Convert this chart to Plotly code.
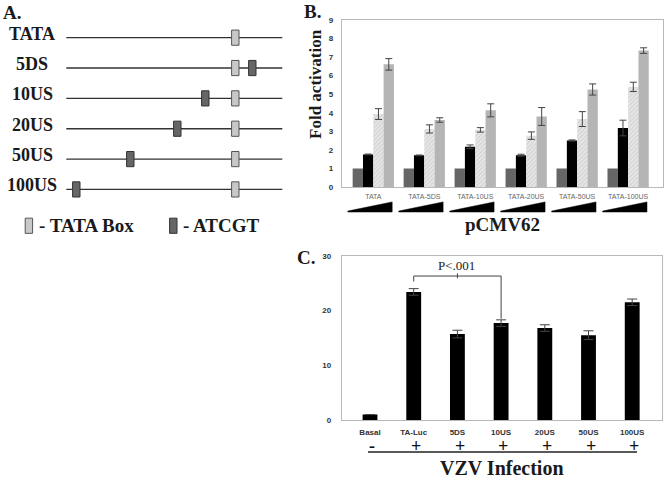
import plotly.graph_objects as go

# ---------------- Panel A: promoter constructs (schematic units, TATA box at 0) ----------------
constructs = ["TATA", "5DS", "10US", "20US", "50US", "100US"]
tata_box_pos = [0, 0, 0, 0, 0, 0]
atcgt_pos = [None, 17, -30, -58, -105, -159]
line_span = [-169, 47]
legend_labels = ["- TATA Box", "- ATCGT"]

# ---------------- Panel B: fold activation by pCMV62 dose ----------------
b_groups = ["TATA", "TATA-5DS", "TATA-10US", "TATA-20US", "TATA-50US", "TATA-100US"]
b_dose0 = [1.0, 1.0, 1.0, 1.0, 1.0, 1.0]
b_dose0_err = [0, 0, 0, 0, 0, 0]
b_dose1 = [1.76, 1.71, 2.17, 1.72, 2.51, 3.18]
b_dose1_err = [0.02, 0.02, 0.10, 0.05, 0.03, 0.42]
b_dose2 = [3.93, 3.13, 3.08, 2.77, 3.66, 5.39]
b_dose2_err = [0.29, 0.22, 0.12, 0.20, 0.40, 0.25]
b_dose3 = [6.60, 3.61, 4.13, 3.80, 5.25, 7.34]
b_dose3_err = [0.31, 0.12, 0.35, 0.48, 0.30, 0.15]
b_yticks = [0, 1, 2, 3, 4, 5, 6, 7, 8, 9]

# ---------------- Panel C: VZV infection ----------------
c_cats = ["Basal", "TA-Luc", "5DS", "10US", "20US", "50US", "100US"]
c_vals = [1.0, 23.4, 15.7, 17.7, 16.8, 15.5, 21.5]
c_err = [0.0, 0.6, 0.7, 0.6, 0.6, 0.8, 0.6]
c_infection = ["-", "+", "+", "+", "+", "+", "+"]
c_yticks = [0, 10, 20, 30]
c_pvalue = "P<.001"
c_compare = (1, 3)

W, H = 664, 479
def px(p):
    return p / W
def py(p):
    return 1 - p / H

SERIF = "Liberation Serif"
SANS = "Liberation Sans"
TXT = "#1a1a1a"

fig = go.Figure()

# ---- Panel A traces ----
for i, name in enumerate(constructs):
    fig.add_trace(go.Scatter(x=line_span, y=[i, i], mode="lines",
                             line=dict(color="#333333", width=1.3),
                             xaxis="x3", yaxis="y3", showlegend=False, hoverinfo="skip"))

shapes = []
BW, BH = 3.7, 0.25
def box(xc, yc, fill, edge):
    return dict(type="rect", xref="x3", yref="y3", x0=xc - BW, x1=xc + BW,
                y0=yc - BH, y1=yc + BH, fillcolor=fill, line=dict(color=edge, width=1))

for i in range(len(constructs)):
    shapes.append(box(tata_box_pos[i], i, "#c8c8c8", "#555555"))
    if atcgt_pos[i] is not None:
        shapes.append(box(atcgt_pos[i], i, "#666666", "#333333"))

legend_row = len(constructs) + 0.196
shapes.append(box(-206.4, legend_row, "#c8c8c8", "#555555"))
shapes.append(box(-62.0, legend_row, "#666666", "#333333"))

annotations = []
for i, name in enumerate(constructs):
    annotations.append(dict(text="<b>%s</b>" % name, xref="paper", yref="y3", x=px(32), y=i,
                            xanchor="center", yanchor="middle", yshift=4, showarrow=False,
                            font=dict(family=SERIF, size=18, color=TXT)))
annotations.append(dict(text="<b>%s</b>" % legend_labels[0], xref="paper", yref="y3", x=px(37),
                        y=legend_row, xanchor="left", yanchor="middle", showarrow=False,
                        font=dict(family=SERIF, size=19, color=TXT)))
annotations.append(dict(text="<b>%s</b>" % legend_labels[1], xref="paper", yref="y3", x=px(181),
                        y=legend_row, xanchor="left", yanchor="middle", showarrow=False,
                        font=dict(family=SERIF, size=19, color=TXT)))

# ---- Panel B traces ----
bx = list(range(len(b_groups)))
b_series = [
    (b_dose0, b_dose0_err, dict(color="#666666")),
    (b_dose1, b_dose1_err, dict(color="#000000")),
    (b_dose2, b_dose2_err, dict(color="#e4e4e4",
                                pattern=dict(shape="/", fgcolor="#b4b4b4", bgcolor="#e6e6e6",
                                             size=3, solidity=0.3))),
    (b_dose3, b_dose3_err, dict(color="#b5b5b5")),
]
for vals, errs, mk in b_series:
    show_err = any(e > 0 for e in errs)
    fig.add_trace(go.Bar(x=bx, y=vals, marker=dict(line=dict(width=0), **mk),
                         error_y=dict(type="data", array=errs, visible=show_err,
                                      color="#444444", thickness=1, width=3.5),
                         xaxis="x", yaxis="y", showlegend=False, hoverinfo="skip"))

# dose wedges under each group
for g in bx:
    x0, x1 = g - 0.5, g + 0.37
    yb, yt = py(212), py(201.7)
    shapes.append(dict(type="path", xref="x", yref="paper",
                       path="M %f,%f L %f,%f L %f,%f L %f,%f Z" % (x0, yb, x0, yb + 0.002, x1, yt, x1, yb),
                       fillcolor="#000000", line=dict(color="#000000", width=0.5)))

# ---- Panel C traces ----
cx = list(range(len(c_cats)))
fig.add_trace(go.Bar(x=cx, y=c_vals, width=0.34, marker=dict(color="#000000", line=dict(width=0)),
                     error_y=dict(type="data", array=c_err, visible=True, color="#444444",
                                  thickness=1, width=5),
                     xaxis="x2", yaxis="y2", showlegend=False, hoverinfo="skip"))

# significance bracket
a, b = c_compare
top = max(c_vals[a] + c_err[a], c_vals[b] + c_err[b]) + 2.3
shapes.append(dict(type="path", xref="x2", yref="y2",
                   path="M %f,%f L %f,%f L %f,%f L %f,%f" % (a, c_vals[a] + c_err[a] + 1.3, a, top,
                                                             b, top, b, c_vals[b] + c_err[b] + 0.2),
                   line=dict(color="#444444", width=1)))
mid = (a + b) / 2
shapes.append(dict(type="line", xref="x2", yref="y2", x0=mid, x1=mid, y0=top - 0.4, y1=top + 0.5,
                   line=dict(color="#444444", width=1)))
annotations.append(dict(text=c_pvalue.replace("<", "&lt;"), xref="x2", yref="y2", x=mid - 0.03,
                        y=top + 2.0, showarrow=False, xanchor="center", yanchor="middle",
                        font=dict(family=SERIF, size=13, color="#222222")))

for i, s in enumerate(c_infection):
    annotations.append(dict(text="<b>%s</b>" % s, xref="x2", yref="paper", x=i + 0.05, y=py(450),
                            showarrow=False, xanchor="center", yanchor="middle",
                            font=dict(family=SERIF, size=18, color="#111111")))
shapes.append(dict(type="line", xref="paper", yref="paper", x0=px(368), x1=px(637),
                   y0=py(456.7), y1=py(456.7), line=dict(color="#222222", width=1.5)))

# ---- titles & panel letters ----
annotations += [
    dict(text="<b>A.</b>", x=px(1), y=py(8.5), xanchor="left"),
    dict(text="<b>B.</b>", x=px(302), y=py(7.5), xanchor="left"),
    dict(text="<b>C.</b>", x=px(317), y=py(258), xanchor="right"),
    dict(text="<b>Fold activation</b>", x=px(316), y=py(81.5), textangle=-90, xanchor="center"),
    dict(text="<b>pCMV62</b>", x=px(502), y=py(225), xanchor="center"),
    dict(text="<b>VZV Infection</b>", x=px(502), y=py(472.5), xanchor="center"),
]
for an in annotations[-6:]:
    an.update(xref="paper", yref="paper", yanchor="middle", showarrow=False)
    size = 19
    if "Fold" in an["text"]:
        size = 17
    if "VZV" in an["text"]:
        size = 20
    an["font"] = dict(family=SERIF, size=size, color=TXT)

frame = "#b8b8b8"
fig.update_layout(
    width=W, height=H, margin=dict(l=0, r=0, t=0, b=0),
    paper_bgcolor="white", plot_bgcolor="white",
    barmode="group", bargap=0.19, bargroupgap=0,
    shapes=shapes, annotations=annotations,
    xaxis=dict(domain=[px(341.7), px(663.3)], range=[-0.62, 5.69], tickvals=bx, ticktext=b_groups,
               showline=True, mirror=True, linecolor=frame, linewidth=1, showgrid=False, zeroline=False,
               ticks="", tickfont=dict(family=SANS, size=7, color="#666666"), ticklabelstandoff=2,
               anchor="y"),
    yaxis=dict(domain=[py(186.7), py(16)], range=[0, 9], tickvals=b_yticks,
               ticktext=["<b>%d</b>" % v for v in b_yticks],
               showline=True, mirror=True, linecolor=frame, linewidth=1, showgrid=False, zeroline=False,
               ticks="", tickfont=dict(family=SANS, size=8, color="#333333"), ticklabelstandoff=6,
               anchor="x"),
    xaxis2=dict(domain=[px(341.7), px(661.7)], range=[-0.648, 6.675], tickvals=cx, ticktext=["<b>%s</b>" % c for c in c_cats],
                showline=True, mirror=True, linecolor=frame, linewidth=1, showgrid=False, zeroline=False,
                ticks="", tickfont=dict(family=SANS, size=8, color="#333333"), ticklabelstandoff=4,
                anchor="y2"),
    yaxis2=dict(domain=[py(424), py(256.6)], range=[0, 30], tickvals=c_yticks,
                ticktext=["<b>%d</b>" % v for v in c_yticks],
                showline=True, mirror=True, linecolor=frame, linewidth=1, showgrid=False, zeroline=False,
                ticks="", tickfont=dict(family=SANS, size=8, color="#333333"), ticklabelstandoff=8,
                anchor="x2"),
    xaxis3=dict(domain=[0, px(300)], range=[-235.3, 64.7], visible=False, anchor="y3", fixedrange=True),
    yaxis3=dict(domain=[py(250), 1], range=[6.972, -1.109], visible=False, anchor="x3", fixedrange=True),
)

fig.write_html("out.html", config={"displayModeBar": False},
               post_script="document.body.style.margin='0';document.body.style.padding='0';")
